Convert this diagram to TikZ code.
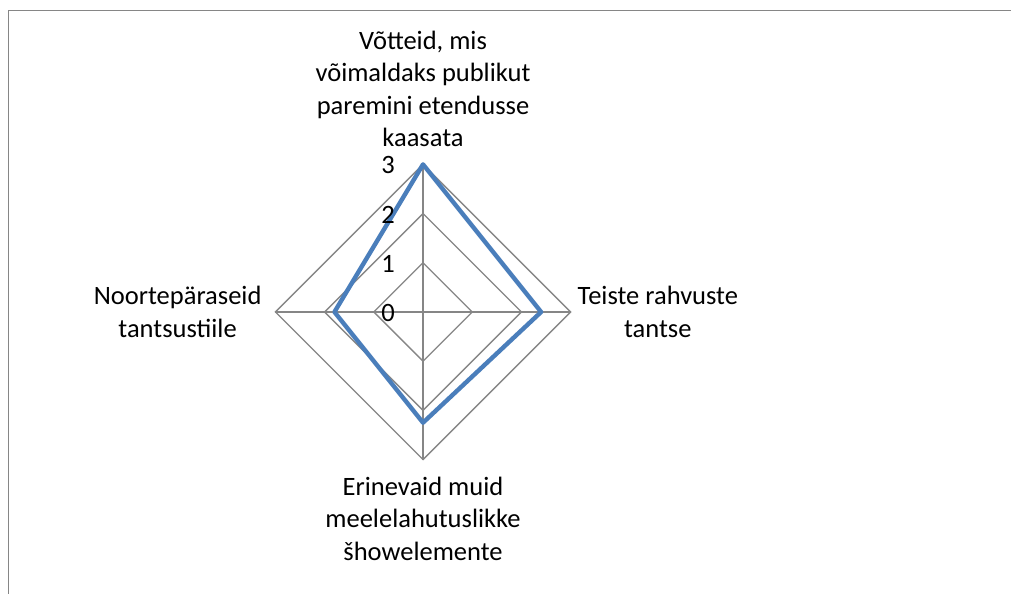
\documentclass[tikz,border=0pt]{standalone}
\usepackage{fontspec}
\setmainfont{Carlito}
\usetikzlibrary{positioning}

\definecolor{gridgray}{HTML}{868686}
\definecolor{seriesblue}{HTML}{4A7EBB}

\begin{document}
\begin{tikzpicture}[
    x=49.2pt, y=49.2pt,
    % Define styles
    gridline/.style={
        draw=gridgray,
        line width=1.3pt
    },
    series/.style={
        draw=seriesblue,
        line width=4.4pt,
        line join=round
    },
    axislabel/.style={
        font=\fontsize{26.5}{32.5}\selectfont,
        align=center,
        inner sep=0pt
    },
    ticklabel/.style={
        font=\fontsize{26.5}{32.5}\selectfont,
        anchor=east,
        inner sep=0pt
    }
]
    \useasboundingbox (-8.598,-5.732) rectangle (11.951,6.341);

    % Chart frame (left and top edges)
    \draw[draw=gridgray, line width=1.6pt] (11.951,6.128) -| (-8.425,-5.732);

    % Grid rings
    \foreach \v in {1,2,3}
        \draw[gridline] (90:\v) -- (0:\v) -- (-90:\v) -- (180:\v) -- cycle;

    % Outer vertices
    \coordinate (top) at (90:3);
    \coordinate (right) at (0:3);
    \coordinate (bottom) at (-90:3);
    \coordinate (left) at (180:3);
    \coordinate (c) at (0,0);

    % Axes
    \foreach \p in {top,right,bottom,left}
        \draw[gridline] (c) -- (\p);

    % Data points
    \coordinate (d1) at (90:3);
    \coordinate (d2) at (0:2.4);
    \coordinate (d3) at (-90:2.25);
    \coordinate (d4) at (180:1.8);
    \draw[series] (d1) -- (d2) -- (d3) -- (d4) -- cycle;

    % Tick labels
    \foreach \v in {0,1,2,3}
        \node[ticklabel] (tick\v) at (-0.57,\v-0.02) {\v};

    % Category labels
    \node[axislabel, above=0.35 of top] (ltop)
        {Võtteid, mis\\võimaldaks publikut\\paremini etendusse\\kaasata};
    \node[axislabel, right=0.14 of right] (lright)
        {Teiste rahvuste\\tantse};
    \node[axislabel, below=0.35 of bottom] (lbottom)
        {Erinevaid muid\\meelelahutuslikke\\šhowelemente};
    \node[axislabel, left=0.28 of left] (lleft)
        {Noortepäraseid\\tantsustiile};
\end{tikzpicture}
\end{document}
